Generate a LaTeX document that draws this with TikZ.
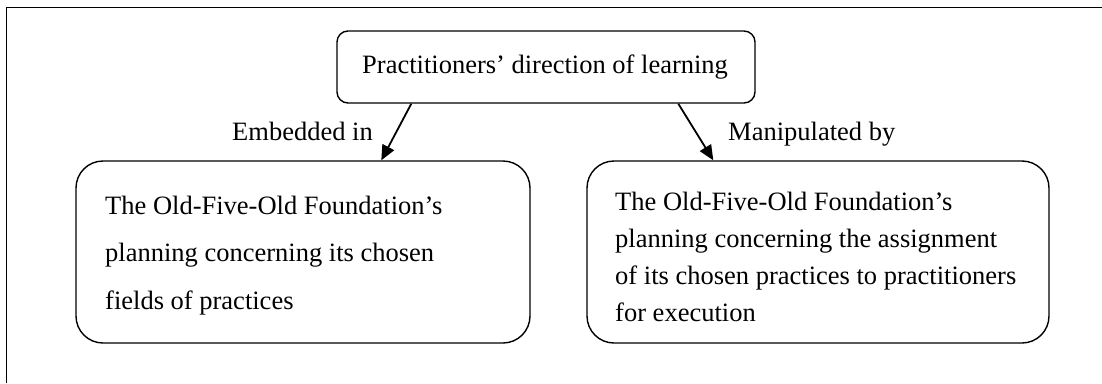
\documentclass[tikz,border=0pt]{standalone}
\usepackage{fontspec}
\setmainfont{Liberation Serif}
\usetikzlibrary{arrows.meta,calc}
\begin{document}
\begin{tikzpicture}[x=1pt,y=-1pt,
  boxline/.style={draw=black,line width=1.4pt},
  smallbox/.style={boxline,rounded corners=11pt,inner sep=0pt},
  bigbox/.style={boxline,rounded corners=27pt,inner sep=0pt},
  txt/.style={anchor=base west,inner sep=0pt,font=\fontsize{26.5}{32}\selectfont},
  arr/.style={line width=1.8pt,-{Triangle[length=15pt,width=13pt]}}]
\useasboundingbox (0,0) rectangle (1102,383);
% frame (left and top edges only)
\coordinate (fbl) at (6.5,383);
\coordinate (ftl) at (6.5,7.5);
\coordinate (ftr) at (1102,7.5);
\draw[line width=1.5pt] (fbl) -- (ftl) -- (ftr);
% boxes
\node[smallbox,minimum width=418pt,minimum height=72pt] (top) at (546,67) {};
\node[bigbox,minimum width=454pt,minimum height=182pt] (left) at (303,252) {};
\node[bigbox,minimum width=462pt,minimum height=182pt] (right) at (818,252) {};
% texts
\node[txt] (toptxt) at (362,73) {Practitioners’ direction of learning};
\node[txt] (lefttxt) at (105,214) {\parbox[t]{420pt}{\fontsize{26.5}{47.7}\selectfont\raggedright
  The Old-Five-Old Foundation’s\\planning concerning its chosen\\fields of practices}};
\node[txt] (righttxt) at (615,210) {\parbox[t]{430pt}{\fontsize{26.5}{37.3}\selectfont\raggedright
  The Old-Five-Old Foundation’s\\planning concerning the assignment\\of its chosen practices to practitioners\\for execution}};
% arrows
\draw[arr] ($(top.south west)+(75,0)$) -- ($(left.north west)+(306,0)$);
\draw[arr] ($(top.south west)+(342,0)$) -- ($(right.north west)+(127,0)$);
% labels
\node[txt] (lab1) at (232,140) {Embedded in};
\node[txt] (lab2) at (728,140) {Manipulated by};
\end{tikzpicture}
\end{document}
